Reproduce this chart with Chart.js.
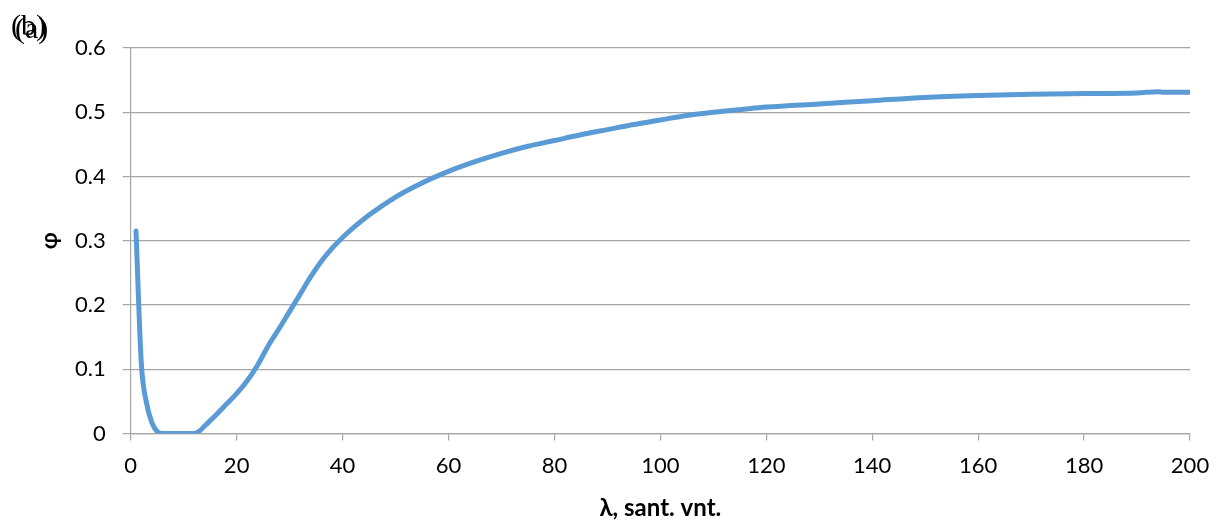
<!DOCTYPE html>
<html>
<head>
<meta charset="utf-8">
<script src="https://cdn.jsdelivr.net/npm/chart.js@4"></script>
<style>
html,body{margin:0;padding:0;background:#fff;}
#wrap{width:1230px;height:526px;position:relative;}
</style>
</head>
<body>
<div id="wrap"><canvas id="c" width="1230" height="526"></canvas></div>
<script>
const lambdaValues = [1,2,3,4,5,6,8,10,12,13,14,16,18,20,22,24,26,28,30,32,34,36,38,40,42,45,50,55,60,65,70,75,80,85,90,95,100,105,110,115,120,130,140,150,160,170,180,190,194,195,200];
const phiValues    = [0.315,0.11,0.047,0.017,0.003,0,0,0,0,0.004,0.012,0.028,0.045,0.062,0.082,0.107,0.137,0.163,0.19,0.217,0.244,0.268,0.288,0.305,0.32,0.34,0.368,0.39,0.408,0.423,0.436,0.447,0.456,0.465,0.473,0.481,0.488,0.495,0.500,0.504,0.508,0.513,0.518,0.523,0.526,0.528,0.529,0.530,0.532,0.531,0.531];
const xTicks = [0,20,40,60,80,100,120,140,160,180,200];
const yTicks = [0,0.1,0.2,0.3,0.4,0.5,0.6];
const xTitle = 'λ, sant. vnt.';
const yTitle = 'φ';
const panelLabels = ['(b)', '(a)'];

const FONT = 'Lato, "Open Sans", sans-serif';

const panelPlugin = {
  id: 'panelLabels',
  afterDraw(chart) {
    const ctx = chart.ctx;
    ctx.save();
    ctx.fillStyle = '#000';
    ctx.font = 'normal 30px "Liberation Serif", "DejaVu Serif", serif';
    ctx.textBaseline = 'alphabetic';
    ctx.textAlign = 'left';
    ctx.fillText(panelLabels[0], 11, 35);
    ctx.fillText(panelLabels[1], 15, 38);
    ctx.restore();
  }
};

new Chart(document.getElementById('c'), {
  type: 'line',
  data: {
    datasets: [{
      data: lambdaValues.map((x, i) => ({x: x, y: phiValues[i]})),
      borderColor: '#5B9BD5',
      borderWidth: 5,
      pointRadius: 0,
      fill: false,
      cubicInterpolationMode: 'monotone',
      borderCapStyle: 'round',
      borderJoinStyle: 'round'
    }]
  },
  options: {
    responsive: false,
    animation: false,
    devicePixelRatio: 1,
    layout: { padding: { top: 48, right: 40, left: 0, bottom: 0 } },
    plugins: { legend: { display: false }, tooltip: { enabled: false } },
    scales: {
      x: {
        type: 'linear',
        min: 0, max: 200,
        afterBuildTicks: s => { s.ticks = xTicks.map(v => ({value: v})); },
        afterFit: s => { s.height = 92.5; },
        grid: { display: true, drawOnChartArea: false, drawTicks: true, tickLength: 7, color: '#A6A6A6', lineWidth: 1.2 },
        border: { display: true, color: '#A6A6A6', width: 1.2 },
        ticks: { color: '#000', font: { family: FONT, size: 22 }, padding: 12, maxRotation: 0, autoSkip: false },
        title: { display: true, text: xTitle, color: '#000', font: { family: FONT, size: 24, weight: 'bold' }, padding: { top: 0, bottom: 3 } }
      },
      y: {
        min: 0, max: 0.6,
        afterBuildTicks: s => { s.ticks = yTicks.map(v => ({value: v})); },
        afterFit: s => { s.width = 130.7; },
        grid: { display: true, drawTicks: true, tickLength: 8, color: '#A6A6A6', lineWidth: 1.2 },
        border: { display: true, color: '#A6A6A6', width: 1.2 },
        ticks: { color: '#000', font: { family: FONT, size: 22 }, padding: 17, callback: v => (v === 0 ? '0' : v.toFixed(1)) },
        title: { display: true, text: yTitle, color: '#000', font: { family: FONT, size: 22, weight: 'bold' }, padding: { top: 37, bottom: 0 } }
      }
    }
  },
  plugins: [panelPlugin]
});
</script>
</body>
</html>
